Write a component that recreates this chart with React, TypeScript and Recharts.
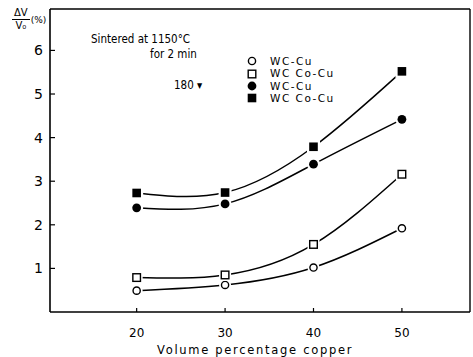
import React from "react";
import { LineChart, Line, XAxis, YAxis } from "recharts";

const copperPct = [20, 30, 40, 50];
const wcCu1150 = [0.49, 0.62, 1.02, 1.92];
const wcCoCu1150 = [0.79, 0.85, 1.55, 3.16];
const wcCu180 = [2.39, 2.48, 3.39, 4.42];
const wcCoCu180 = [2.73, 2.74, 3.79, 5.52];
const yTicks = [1, 2, 3, 4, 5, 6];
const xTicks = [20, 30, 40, 50];

const data = copperPct.map((c, i) => ({
  x: c,
  a: wcCu1150[i],
  b: wcCoCu1150[i],
  c: wcCu180[i],
  d: wcCoCu180[i],
}));

const FONT = "'DejaVu Sans', sans-serif";

type Shape = "oc" | "os" | "fc" | "fs";

const Marker = ({ cx, cy, shape }: { cx: number; cy: number; shape: Shape }) => {
  if (cx == null || cy == null) return null;
  if (shape === "oc")
    return (
      <g>
        <circle cx={cx} cy={cy} r={6} fill="#fff" />
        <circle cx={cx} cy={cy} r={3.6} fill="#fff" stroke="#000" strokeWidth={1.4} />
      </g>
    );
  if (shape === "fc")
    return (
      <g>
        <circle cx={cx} cy={cy} r={6.5} fill="#fff" />
        <circle cx={cx} cy={cy} r={4.4} fill="#000" />
      </g>
    );
  if (shape === "os")
    return (
      <g>
        <rect x={cx - 6} y={cy - 6} width={12} height={12} fill="#fff" />
        <rect x={cx - 3.8} y={cy - 3.8} width={7.6} height={7.6} fill="#fff" stroke="#000" strokeWidth={1.4} />
      </g>
    );
  return (
    <g>
      <rect x={cx - 6.5} y={cy - 6.5} width={13} height={13} fill="#fff" />
      <rect x={cx - 4.3} y={cy - 4.3} width={8.6} height={8.6} fill="#000" />
    </g>
  );
};

const mkDot = (shape: Shape) => (props: any) => (
  <Marker key={`${shape}-${props.index}`} cx={props.cx} cy={props.cy} shape={shape} />
);

const YTick = (props: any) => {
  const { x, y, payload } = props;
  return (
    <g>
      <line x1={x} y1={y} x2={x + 5} y2={y} stroke="#000" strokeWidth={1.2} />
      <text x={x - 7} y={y} dy={5} textAnchor="end" fontSize={14} fontFamily={FONT} fill="#000">
        {payload.value}
      </text>
    </g>
  );
};

const XTick = (props: any) => {
  const { x, y, payload } = props;
  return (
    <g>
      <line x1={x} y1={y} x2={x} y2={y - 4} stroke="#000" strokeWidth={1.2} />
      <text x={x} y={y} dy={25} textAnchor="middle" fontSize={12} fontFamily={FONT} fill="#000">
        {payload.value}
      </text>
    </g>
  );
};

const legendItems: { shape: Shape; label: string }[] = [
  { shape: "oc", label: "WC-Cu" },
  { shape: "os", label: "WC Co-Cu" },
  { shape: "fc", label: "WC-Cu" },
  { shape: "fs", label: "WC Co-Cu" },
];

export default function App() {
  return (
    <div style={{ position: "absolute", left: 0, top: 0, width: 473, height: 357, background: "#fff" }}>
      <LineChart
        width={473}
        height={357}
        data={data}
        margin={{ top: 8, right: 2, bottom: 0, left: 0 }}
      >
        <XAxis
          dataKey="x"
          type="number"
          domain={[10.2, 57.7]}
          ticks={xTicks}
          axisLine={{ stroke: "#000", strokeWidth: 1.6 }}
          tickLine={false}
          tickSize={0}
          tickMargin={0}
          tick={<XTick />}
          height={45}
          allowDataOverflow
        />
        <XAxis
          xAxisId="top"
          orientation="top"
          dataKey="x"
          type="number"
          domain={[10.2, 57.7]}
          axisLine={{ stroke: "#000", strokeWidth: 1.4 }}
          tick={false}
          tickLine={false}
          height={1}
        />
        <YAxis
          type="number"
          domain={[0, 6.95]}
          ticks={yTicks}
          axisLine={{ stroke: "#000", strokeWidth: 1.6 }}
          tickLine={false}
          tickSize={0}
          tickMargin={0}
          tick={<YTick />}
          width={50}
          allowDataOverflow
        />
        <YAxis
          yAxisId="right"
          orientation="right"
          domain={[0, 6.95]}
          axisLine={{ stroke: "#000", strokeWidth: 1.4 }}
          tick={false}
          tickLine={false}
          width={1}
        />
        <Line dataKey="a" type="natural" stroke="#000" strokeWidth={1.5} dot={mkDot("oc")} isAnimationActive={false} />
        <Line dataKey="b" type="natural" stroke="#000" strokeWidth={1.5} dot={mkDot("os")} isAnimationActive={false} />
        <Line dataKey="c" type="natural" stroke="#000" strokeWidth={1.5} dot={mkDot("fc")} isAnimationActive={false} />
        <Line dataKey="d" type="natural" stroke="#000" strokeWidth={1.5} dot={mkDot("fs")} isAnimationActive={false} />
      </LineChart>
      <div style={{ position: "absolute", left: 244, top: 55, fontFamily: FONT, fontSize: 10.5, color: "#000", letterSpacing: 1.5 }}>
        {legendItems.map((it, i) => (
          <div key={i} style={{ display: "flex", alignItems: "center", height: 12.4, lineHeight: "12.4px" }}>
            <svg width={26} height={12} style={{ overflow: "visible", flex: "none" }}>
              <Marker cx={8} cy={6} shape={it.shape} />
            </svg>
            <span>{it.label}</span>
          </div>
        ))}
      </div>
      <div style={{ position: "absolute", left: 91, top: 32, fontFamily: FONT, fontSize: 11.5, fontStretch: "condensed", color: "#000", lineHeight: "15px" }}>
        <div>Sintered at 1150°C</div>
        <div style={{ paddingLeft: 59 }}>for 2 min</div>
        <div style={{ paddingLeft: 83, marginTop: 16 }}>180 ▾</div>
      </div>
      <div style={{ position: "absolute", left: 12, top: 7, fontFamily: FONT, fontSize: 10, color: "#000" }}>
        <div style={{ display: "flex", alignItems: "center" }}>
          <div style={{ textAlign: "center" }}>
            <div style={{ borderBottom: "1px solid #000", padding: "0 2px", lineHeight: "12px" }}>ΔV</div>
            <div style={{ lineHeight: "12px" }}>V₀</div>
          </div>
          <div style={{ fontSize: 9, marginLeft: 1 }}>(%)</div>
        </div>
      </div>
      <div style={{ position: "absolute", left: 157, top: 343, width: 200, fontFamily: FONT, fontSize: 11.5, letterSpacing: 1.7, color: "#000", whiteSpace: "nowrap" }}>
        Volume percentage copper
      </div>
    </div>
  );
}
